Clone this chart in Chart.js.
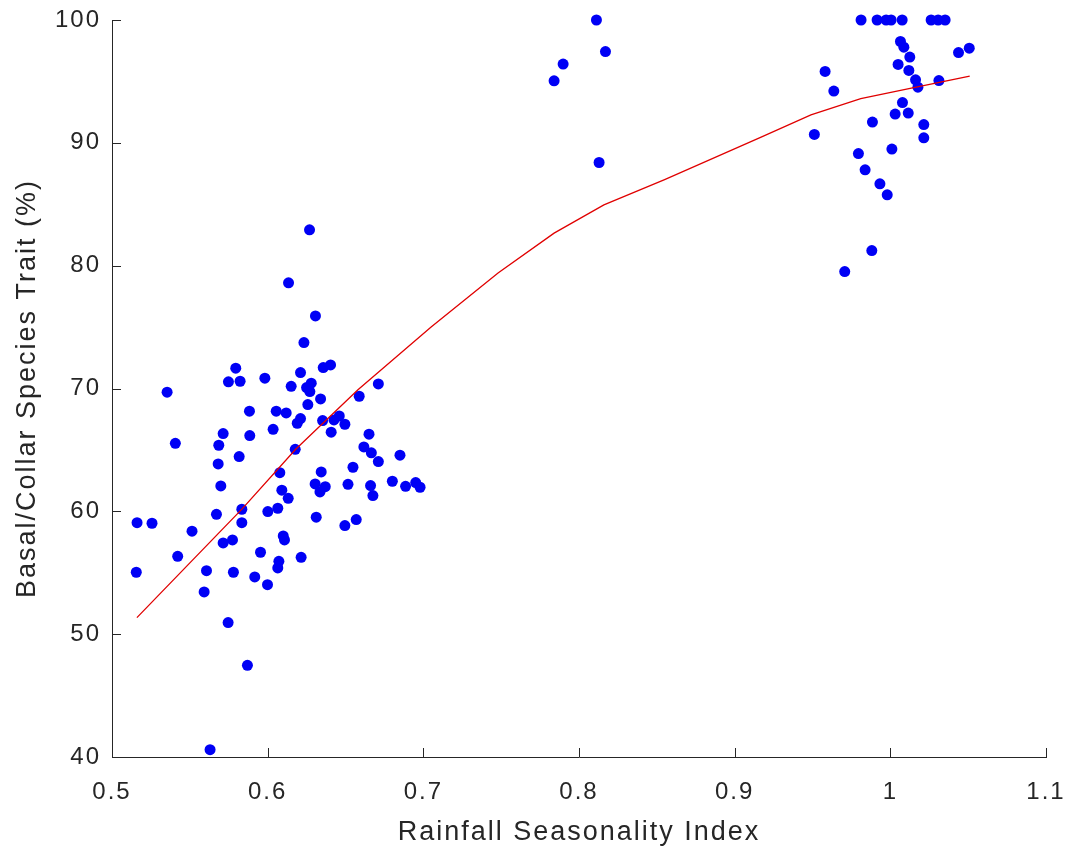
<!DOCTYPE html>
<html>
<head>
<meta charset="utf-8">
<script src="https://cdn.jsdelivr.net/npm/chart.js@4/dist/chart.umd.min.js"></script>
<style>
  body { margin: 0; background: #fff; }
</style>
</head>
<body>
<canvas id="traitChart" width="1069" height="853"></canvas>
<script>
// Pontos observados (índice de sazonalidade x % da característica)
const rainfallIndex = [
    0.5795, 0.5748, 0.5823, 0.5982, 0.5354, 0.6211, 0.6357, 0.6404, 0.6151, 0.6250,
    0.6280, 0.6271, 0.6340, 0.6258, 0.6711, 0.6588, 0.5883, 0.6055, 0.6119, 0.6211,
    0.6190, 0.6353, 0.6426, 0.6460, 0.6496, 0.6035, 0.6408, 0.6651, 0.5714, 0.5885,
    0.5407, 0.5686, 0.5817, 0.6177, 0.6618, 0.6666, 0.6711, 0.6850, 0.5682, 0.6548,
    0.6078, 0.6344, 0.5699, 0.6305, 0.6370, 0.6336, 0.6516, 0.6661, 0.6676, 0.6801,
    0.6886, 0.6951, 0.6979, 0.6091, 0.6132, 0.5834, 0.5671, 0.6001, 0.6065, 0.6312,
    0.6569, 0.6496, 0.5161, 0.5257, 0.5834, 0.5514, 0.5714, 0.5774, 0.6100, 0.6108,
    0.5422, 0.5954, 0.6215, 0.6072, 0.6065, 0.5156, 0.5607, 0.5780, 0.5917, 0.5999,
    0.5592, 0.5746, 0.5870, 0.5630, 0.6269, 0.6134, 0.6307, 0.6233,
    0.7840, 0.7898, 0.8112, 0.8170, 0.8129,
    0.9812, 0.9915, 0.9973, 1.0005, 1.0076, 1.0262, 1.0307, 1.0352,
    1.0065, 1.0087, 1.0125, 1.0050, 1.0119, 1.0162, 1.0177, 1.0312, 1.0438, 1.0507,
    0.9581, 0.9637, 0.9512, 0.9885, 1.0078, 1.0031, 1.0115, 1.0215, 1.0215, 1.0010,
    0.9795, 0.9838, 0.9933, 0.9980, 0.9881, 0.9707
];
const traitPct = [
    71.65, 70.54, 70.59, 70.84, 69.70, 71.30, 71.70, 71.92, 70.18, 70.08,
    70.43, 69.75, 69.15, 68.69, 70.37, 69.37, 68.15, 68.15, 68.01, 67.55,
    67.17, 67.39, 67.44, 67.77, 67.09, 66.68, 66.44, 66.28, 66.33, 66.17,
    65.54, 65.38, 64.46, 65.05, 65.24, 64.76, 64.05, 64.57, 63.86, 63.59,
    63.15, 63.21, 62.07, 62.23, 62.01, 61.58, 62.20, 62.10, 61.28, 62.45,
    62.04, 62.34, 61.96, 61.72, 61.06, 60.17, 59.76, 59.98, 60.25, 59.52,
    59.33, 58.84, 59.08, 59.03, 59.08, 58.38, 57.43, 57.67, 58.00, 57.67,
    56.34, 56.67, 56.26, 55.93, 55.39, 55.04, 55.17, 55.04, 54.66, 54.03,
    53.44, 50.94, 47.46, 40.60, 82.92, 78.60, 75.91, 73.74,
    95.05, 96.41, 100, 97.43, 88.40,
    100, 100, 100, 100, 100, 100, 100, 100,
    98.25, 97.79, 96.98, 96.38, 95.89, 95.13, 94.53, 95.07, 97.35, 97.71,
    95.81, 94.21, 90.68, 91.69, 93.28, 92.34, 92.42, 91.49, 90.41, 89.49,
    89.13, 87.80, 86.66, 85.77, 81.23, 79.52
];

// Curva ajustada (vermelha)
const fitX = [0.516, 0.5836, 0.618, 0.658, 0.705, 0.748, 0.784, 0.816, 0.855, 0.917, 0.949, 0.981, 1.0135, 1.051];
const fitY = [51.35, 60.2, 65.05, 69.9, 75.0, 79.4, 82.65, 84.95, 87.0, 90.46, 92.28, 93.6, 94.45, 95.43];

// Marcas dos eixos
const xTicks = [0.5, 0.6, 0.7, 0.8, 0.9, 1.0, 1.1];
const yTicks = [40, 50, 60, 70, 80, 90, 100];

const axisColor = '#262626';

// Espaçamento entre letras parecido com o original
const letterSpacingPlugin = {
    id: 'letterSpacing',
    beforeUpdate(chart) { chart.ctx.letterSpacing = '2px'; },
    beforeDraw(chart) { chart.ctx.letterSpacing = '2px'; }
};

// Marcas dos eixos desenhadas para dentro (estilo MATLAB)
const innerTicksPlugin = {
    id: 'innerTicks',
    afterDraw(chart) {
        const { ctx, chartArea, scales } = chart;
        ctx.save();
        ctx.strokeStyle = axisColor;
        ctx.lineWidth = 1;
        ctx.beginPath();
        xTicks.forEach(v => {
            const px = Math.round(scales.x.getPixelForValue(v)) + 0.5;
            ctx.moveTo(px, chartArea.bottom);
            ctx.lineTo(px, chartArea.bottom - 9);
        });
        yTicks.forEach(v => {
            const py = Math.round(scales.y.getPixelForValue(v)) + 0.5;
            ctx.moveTo(chartArea.left, py);
            ctx.lineTo(chartArea.left + 9, py);
        });
        ctx.stroke();
        ctx.restore();
    }
};

const ctx = document.getElementById('traitChart').getContext('2d');

const traitChart = new Chart(ctx, {
    type: 'scatter',
    data: {
        datasets: [{
            type: 'line',
            label: 'Ajuste',
            data: fitX.map((x, i) => ({ x: x, y: fitY[i] })),
            borderColor: '#e00000',
            borderWidth: 1.3,
            pointRadius: 0,
            tension: 0,
            fill: false
        }, {
            label: 'Espécies',
            data: rainfallIndex.map((x, i) => ({ x: x, y: traitPct[i] })),
            backgroundColor: '#0000f5',
            borderWidth: 0,
            pointRadius: 5.5,
            clip: false
        }]
    },
    options: {
        responsive: false,
        animation: false,
        layout: { padding: { left: 0, right: 23, top: 20, bottom: 0 } },
        plugins: {
            legend: { display: false },
            tooltip: { enabled: false }
        },
        scales: {
            x: {
                type: 'linear',
                min: 0.5,
                max: 1.1,
                afterBuildTicks: s => { s.ticks = xTicks.map(v => ({ value: v })); },
                afterFit: s => { s.height = 96; s.paddingLeft = 0; s.paddingRight = 0; },
                grid: { display: false, drawTicks: false },
                border: { display: true, color: axisColor, width: 1 },
                ticks: {
                    padding: 21,
                    color: axisColor,
                    font: { family: 'Liberation Sans, Arial, sans-serif', size: 24 },
                    callback: v => String(Number(v.toFixed(1)))
                },
                title: {
                    display: true,
                    text: 'Rainfall Seasonality Index',
                    color: axisColor,
                    font: { family: 'Liberation Sans, Arial, sans-serif', size: 27 },
                    padding: { top: 0, bottom: 4 }
                }
            },
            y: {
                type: 'linear',
                min: 40,
                max: 100,
                afterBuildTicks: s => { s.ticks = yTicks.map(v => ({ value: v })); },
                afterFit: s => { s.width = 112; s.paddingTop = 0; s.paddingBottom = 0; },
                grid: { display: false, drawTicks: false },
                border: { display: true, color: axisColor, width: 1 },
                ticks: {
                    padding: 11,
                    color: axisColor,
                    font: { family: 'Liberation Sans, Arial, sans-serif', size: 24 }
                },
                title: {
                    display: true,
                    text: 'Basal/Collar Species Trait (%)',
                    color: axisColor,
                    font: { family: 'Liberation Sans, Arial, sans-serif', size: 27 },
                    padding: { top: 11, bottom: 0 }
                }
            }
        }
    },
    plugins: [letterSpacingPlugin, innerTicksPlugin]
});
</script>
</body>
</html>
